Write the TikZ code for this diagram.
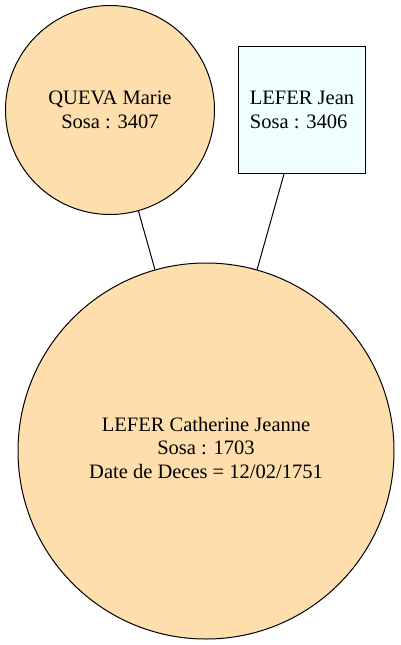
\documentclass[tikz,border=0pt]{standalone}
\usepackage{fontspec}
\setmainfont{Liberation Serif}
\definecolor{navajo}{RGB}{255,222,173}
\definecolor{azurefill}{RGB}{240,255,255}
\begin{document}
\begin{tikzpicture}[x=1pt,y=-1pt,
  every node/.style={font=\fontsize{20.5}{23.5}\selectfont, inner sep=0pt},
  person/.style={draw=black, line width=1pt, circle, fill=navajo, align=center},
  man/.style={draw=black, line width=1pt, rectangle, fill=azurefill, align=left},
  link/.style={draw=black, line width=1pt}]
\useasboundingbox (0,0) rectangle (400,645);
\node[person, minimum size=209pt] (queva) at (110,110) {QUEVA Marie\\Sosa : 3407};
\node[man, minimum width=127pt, minimum height=127pt] (jean) at (302,110) {LEFER Jean\\Sosa : 3406};
\node[person, minimum size=376pt] (cath) at (206,451) {LEFER Catherine Jeanne\\Sosa : 1703\\Date de Deces = 12/02/1751\\[-17pt]\mbox{}};
\draw[link] (queva) -- (cath);
\draw[link] (jean) -- (cath);
\end{tikzpicture}
\end{document}
